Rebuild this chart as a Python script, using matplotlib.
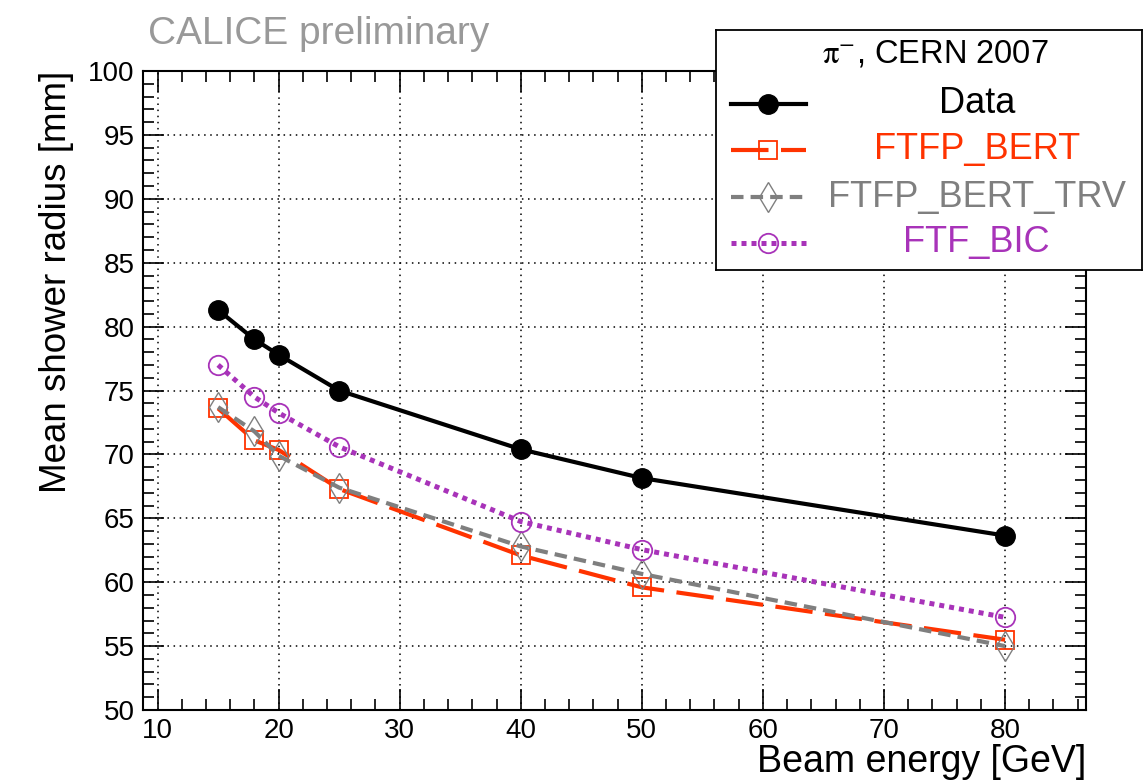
import matplotlib
matplotlib.use("Agg")
import matplotlib.pyplot as plt
from matplotlib.ticker import MultipleLocator

plt.rcParams['font.family'] = ['Liberation Sans', 'DejaVu Sans']
plt.rcParams['mathtext.fontset'] = 'stix'

# beam energies [GeV]
energy = [15, 18, 20, 25, 40, 50, 80]

# mean shower radius [mm]
data = [81.3, 79.0, 77.8, 75.0, 70.4, 68.15, 63.65]
ftfp_bert = [73.6, 71.1, 70.35, 67.3, 62.1, 59.6, 55.5]
ftfp_bert_trv = [73.7, 71.8, 69.9, 67.4, 62.8, 60.65, 55.0]
ftf_bic = [77.0, 74.5, 73.25, 70.6, 64.75, 62.55, 57.25]

labels = ["Data", "FTFP_BERT", "FTFP_BERT_TRV", "FTF_BIC"]
colors = ["black", "#ff3300", "#7f7f7f", "#a833b9"]

styles = [
    dict(ls="-", lw=3, marker="o", ms=14, mfc="black", mec="black"),
    dict(ls=(0, (9, 3)), lw=3, marker="s", ms=13, mfc="none", mec="#ff3300", mew=1.3),
    dict(ls=(0, (3, 1.7)), lw=3, marker="d", ms=15, mfc="none", mec="#7f7f7f", mew=1.0),
    dict(ls=(0, (1, 1)), lw=3.6, marker="o", ms=14, mfc="none", mec="#a833b9", mew=1.3,
         dash_capstyle="butt"),
]
series = [data, ftfp_bert, ftfp_bert_trv, ftf_bic]

fig = plt.figure(figsize=(11.46, 7.83), dpi=100)
ax = fig.add_axes([0.1248, 0.0932, 0.823, 0.8161])

# draw models first, data on top
for i in [1, 2, 3, 0]:
    ax.plot(energy, series[i], color=colors[i], zorder=3 + (i == 0), **styles[i])

ax.set_xlim(8.8, 86.7)
ax.set_ylim(50, 100)
ax.xaxis.set_major_locator(MultipleLocator(10))
ax.xaxis.set_minor_locator(MultipleLocator(2))
ax.yaxis.set_major_locator(MultipleLocator(5))
ax.yaxis.set_minor_locator(MultipleLocator(1))
ax.tick_params(which="both", direction="in", top=True, right=True, width=1.2,
               labelsize=20, pad=6)
ax.tick_params(which="major", length=15)
ax.tick_params(which="minor", length=8)
ax.grid(True, which="major", color="black", ls=(0, (1, 3)), lw=1.1)
for s in ax.spines.values():
    s.set_linewidth(1.5)

ax.set_xlabel("Beam energy [GeV]", fontsize=27, loc="right", labelpad=0)
ax.set_ylabel("Mean shower radius [mm]", fontsize=26.5, loc="top", labelpad=10)

fig.text(0.129, 0.957, "CALICE preliminary", fontsize=28, color="#999999",
         ha="left", va="center")

# legend box in its own axes
lg = fig.add_axes([0.6248, 0.6552, 0.3717, 0.3065])
lg.set_xlim(0, 1)
lg.set_ylim(0, 1)
lg.set_xticks([])
lg.set_yticks([])
lg.set_facecolor("white")
for s in lg.spines.values():
    s.set_linewidth(1.3)
lg.text(0.514, 0.9, r"$\mathrm{\pi}^{-}$, CERN 2007", fontsize=23.5, ha="center", va="center")
ypos = [0.692, 0.5, 0.304, 0.1125]
for i in range(4):
    lg.plot([0.035, 0.211], [ypos[i], ypos[i]], color=colors[i],
            **{k: v for k, v in styles[i].items() if k != "marker"})
    lg.plot([0.122], [ypos[i]], color=colors[i], ls="none", marker=styles[i]["marker"],
            ms=styles[i]["ms"], mfc=styles[i]["mfc"], mec=styles[i]["mec"],
            mew=styles[i].get("mew", 1))
    lg.text(0.612, ypos[i], labels[i], fontsize=26, color=colors[i], ha="center", va="center")

fig.savefig("out.png", dpi=100)
